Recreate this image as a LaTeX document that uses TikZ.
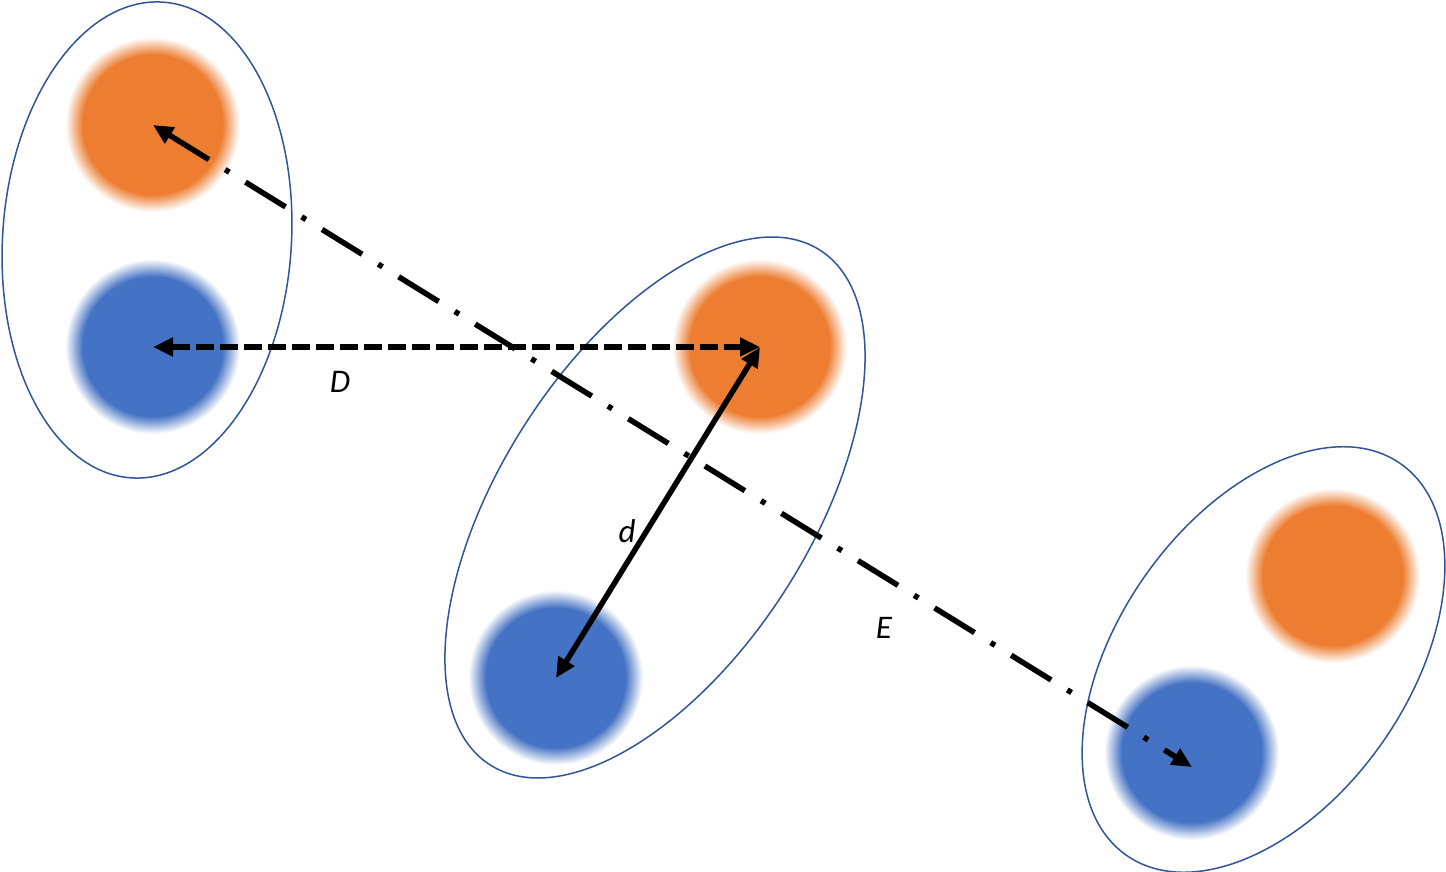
\documentclass[tikz,border=0pt]{standalone}
\usepackage{fontspec}
\setmainfont{Carlito}
\usetikzlibrary{arrows.meta}
\definecolor{orng}{HTML}{ED7D31}
\definecolor{blu}{HTML}{4472C4}
\definecolor{ellline}{HTML}{2F5597}
\newcommand\blurblob[2]{%
  \foreach \k in {0,...,16} {%
    \pgfmathsetmacro\rr{44-\k*0.55}%
    \pgfmathtruncatemacro\pp{\k*100/16}%
    \fill[#2!\pp!white] (#1) circle[radius=\rr pt];
  }%
}
\tikzset{
  blob/.style={circle, minimum size=88pt, inner sep=0pt},
  ell/.style={draw=ellline, line width=0.75pt},
  dashline/.style={line width=2.75pt, dash pattern=on 9pt off 3pt, {Triangle[length=10pt,width=9pt]}-{Triangle[length=10pt,width=9pt]}},
  dotline/.style={line width=2.75pt, dash pattern=on 23.5pt off 9.5pt on 2.5pt off 9.5pt, {Triangle[length=10pt,width=9pt]}-{Triangle[length=10pt,width=9pt]}},
  solidline/.style={line width=2.75pt, {Triangle[length=10pt,width=9pt]}-{Triangle[length=10pt,width=9pt]}},
  lbl/.style={font=\itshape\fontsize{16.5}{19}\selectfont, anchor=base, inner sep=0pt}
}
\begin{document}
\begin{tikzpicture}[x=0.5pt,y=-0.5pt]
\useasboundingbox (0,0) rectangle (1446,872);
% blobs
\node[blob] (o1) at (153,125) {};
\node[blob] (b1) at (153,347) {};
\node[blob] (o2) at (760,347) {};
\node[blob] (b2) at (556,678) {};
\node[blob] (o3) at (1333,576) {};
\node[blob] (b3) at (1192,753) {};
\blurblob{o1.center}{orng}
\blurblob{b1.center}{blu}
\blurblob{o2.center}{orng}
\blurblob{b2.center}{blu}
\blurblob{o3.center}{orng}
\blurblob{b3.center}{blu}
% ellipses
\draw[ell, rotate around={86.2:(147,240)}] (147,240) ellipse [x radius=119.2pt, y radius=72.2pt];
\draw[ell, rotate around={57.3:(655,507.5)}] (655,507.5) ellipse [x radius=152.85pt, y radius=77.15pt];
\draw[ell, rotate around={55:(1263.5,659.5)}] (1263.5,659.5) ellipse [x radius=119.5pt, y radius=72.5pt];
% connectors
\coordinate (eEnd) at (1192,767);
\draw[dotline] (o1.center) -- (eEnd);
\draw[dashline] (b1.center) -- (o2.center);
\draw[solidline] (b2.center) -- (o2.center);
% labels
\node[lbl] (lD) at (340,392) {D};
\node[lbl] (ld) at (627,542) {d};
\node[lbl] (lE) at (884,638) {E};
\end{tikzpicture}
\end{document}
